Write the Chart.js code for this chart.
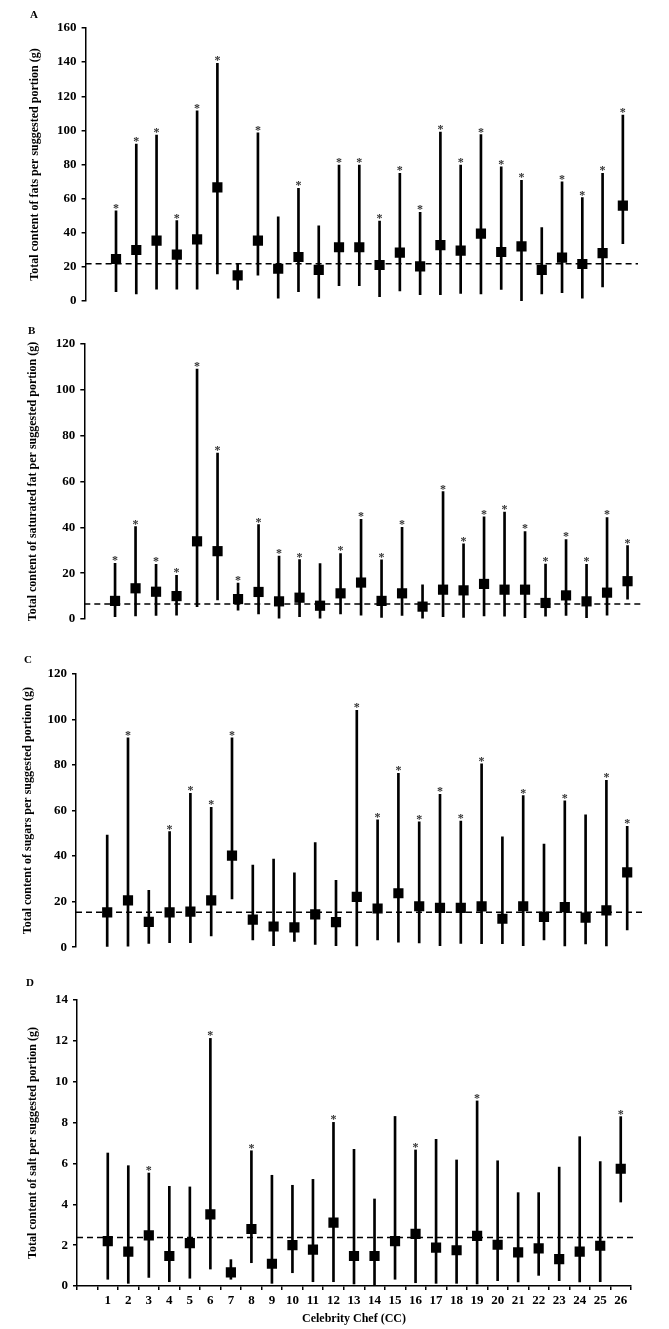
<!DOCTYPE html>
<html>
<head>
<meta charset="utf-8">
<script src="https://cdn.jsdelivr.net/npm/chart.js@4.4.1/dist/chart.umd.min.js"></script>
<style>
  body { margin: 0; background: #fff; }
  .panel { position: absolute; left: 0; width: 669px; }
</style>
</head>
<body>
<div class="panel" style="top:0;height:320px"><canvas id="chartA"></canvas></div>
<div class="panel" style="top:320px;height:320px"><canvas id="chartB"></canvas></div>
<div class="panel" style="top:640px;height:320px"><canvas id="chartC"></canvas></div>
<div class="panel" style="top:960px;height:369px"><canvas id="chartD"></canvas></div>
<script>
// Celebrity chefs 1..26 (first slot is an empty spacer on the axis)
const chefs = ['', '1', '2', '3', '4', '5', '6', '7', '8', '9', '10', '11', '12', '13',
  '14', '15', '16', '17', '18', '19', '20', '21', '22', '23', '24', '25', '26'];

// A - total fats (g)
const fatMean = [24.6, 29.9, 35.4, 27.2, 36.1, 66.6, 15.0, 35.4, 18.9, 25.8, 18.2, 31.5, 31.5, 21.1, 28.3, 20.3, 32.8, 29.5, 39.5, 28.7, 32.0, 18.2, 25.4, 21.7, 28.1, 55.9];
const fatLow = [5.5, 4.1, 7.0, 7.0, 7.0, 15.8, 6.8, 15.2, 1.6, 5.5, 1.6, 9.0, 9.0, 2.5, 5.9, 3.7, 3.7, 4.5, 4.1, 6.8, 0.2, 4.1, 4.9, 1.6, 8.2, 33.6];
const fatHigh = [52.9, 92.0, 97.3, 47.1, 111.5, 139.3, 21.7, 98.6, 49.4, 66.0, 44.1, 79.7, 79.7, 46.9, 74.8, 52.0, 99.0, 79.7, 97.5, 78.7, 70.7, 43.0, 69.9, 60.6, 74.8, 109.0];
const fatStar = [1, 1, 1, 1, 1, 1, 0, 1, 0, 1, 0, 1, 1, 1, 1, 1, 1, 1, 1, 1, 1, 0, 1, 1, 1, 1];

// B - saturated fat (g)
const satMean = [7.9, 13.4, 11.9, 10.0, 33.9, 29.6, 8.7, 11.8, 7.7, 9.3, 5.8, 11.2, 15.9, 7.9, 11.2, 5.4, 12.8, 12.5, 15.3, 12.8, 12.8, 7.0, 10.3, 7.7, 11.5, 16.5];
const satLow = [1.0, 1.3, 1.6, 1.7, 5.4, 8.3, 3.9, 2.2, 0.4, 1.0, 0.4, 2.2, 1.7, 0.7, 1.6, 0.4, 1.0, 0.7, 1.3, 1.2, 0.6, 1.2, 1.6, 0.6, 1.7, 8.6];
const satHigh = [24.3, 40.3, 23.9, 19.1, 109.1, 72.4, 15.7, 41.2, 27.5, 25.9, 24.2, 28.6, 43.5, 25.8, 40.0, 14.9, 55.6, 32.8, 44.6, 46.7, 38.2, 24.0, 34.7, 23.9, 44.3, 32.0];
const satStar = [1, 1, 1, 1, 1, 1, 1, 1, 1, 1, 0, 1, 1, 1, 1, 0, 1, 1, 1, 1, 1, 1, 1, 1, 1, 1];

// C - sugars (g)
const sugMean = [15.3, 20.6, 11.1, 15.3, 15.6, 20.6, 40.2, 12.1, 9.1, 8.7, 14.4, 11.0, 22.1, 17.0, 23.7, 18.0, 17.3, 17.3, 17.9, 12.5, 18.0, 13.3, 17.6, 13.0, 16.2, 32.9];
const sugLow = [0.3, 0.4, 1.7, 2.0, 2.0, 4.9, 21.2, 3.2, 0.7, 2.5, 1.2, 0.7, 0.6, 3.2, 2.2, 1.9, 0.7, 1.7, 1.6, 1.6, 0.7, 3.2, 0.6, 1.4, 0.6, 7.6];
const sugHigh = [49.3, 92.0, 25.0, 50.8, 67.6, 61.4, 92.0, 36.1, 38.7, 32.7, 45.9, 29.4, 104.0, 56.0, 76.4, 55.1, 67.2, 55.4, 80.5, 48.5, 66.6, 45.3, 64.3, 58.1, 73.3, 53.1];
const sugStar = [0, 1, 0, 1, 1, 1, 1, 0, 0, 0, 0, 0, 1, 1, 1, 1, 1, 1, 1, 0, 1, 0, 1, 0, 1, 1];

// D - salt (g)
const saltMean = [2.2, 1.68, 2.48, 1.47, 2.1, 3.51, 0.67, 2.79, 1.09, 2.0, 1.78, 3.1, 1.47, 1.47, 2.2, 2.55, 1.88, 1.75, 2.45, 2.02, 1.65, 1.84, 1.32, 1.68, 1.97, 5.74];
const saltLow = [0.33, 0.13, 0.42, 0.21, 0.38, 0.83, 0.33, 1.14, 0.13, 0.65, 0.21, 0.21, 0.1, 0.05, 0.33, 0.16, 0.13, 0.13, 0.1, 0.26, 0.2, 0.52, 0.26, 0.2, 0.21, 4.11];
const saltHigh = [6.51, 5.89, 5.53, 4.88, 4.85, 12.12, 1.29, 6.62, 5.42, 4.93, 5.22, 8.01, 6.69, 4.26, 8.3, 6.66, 7.18, 6.17, 9.06, 6.13, 4.57, 4.57, 5.82, 7.31, 6.09, 8.29];
const saltStar = [0, 0, 1, 0, 0, 1, 0, 1, 0, 0, 0, 1, 0, 0, 0, 1, 0, 0, 1, 0, 0, 0, 0, 0, 0, 1];

// dashed reference level for each panel
const refLevels = [21.9, 6.6, 15.4, 2.38];

const FONT = "'Liberation Serif', 'Times New Roman', serif";

function makePanel(id, p) {
    // plugin: dashed reference line, asterisks, panel letter
    const marks = {
        id: 'marks',
        beforeDatasetsDraw(chart) {
            const { ctx, chartArea, scales: { y } } = chart;
            const yy = y.getPixelForValue(p.ref);
            ctx.save();
            ctx.setLineDash([6, 4]);
            ctx.lineWidth = 1.5;
            ctx.strokeStyle = '#000';
            ctx.beginPath();
            ctx.moveTo(chartArea.left, yy);
            ctx.lineTo(chartArea.right + 5, yy);
            ctx.stroke();
            ctx.restore();
        },
        afterDatasetsDraw(chart) {
            const { ctx, scales: { x, y } } = chart;
            ctx.save();
            ctx.fillStyle = '#333';
            ctx.font = 'bold 12px ' + FONT;
            ctx.textAlign = 'center';
            ctx.textBaseline = 'alphabetic';
            p.star.forEach((s, i) => {
                if (!s) return;
                const px = x.getPixelForValue(i + 1);
                const py = y.getPixelForValue(p.high[i]);
                ctx.fillText('*', px, py + 1);
            });
            ctx.fillStyle = '#000';
            ctx.font = 'bold 11px ' + FONT;
            ctx.textAlign = 'left';
            ctx.textBaseline = 'middle';
            ctx.fillText(p.letter, p.lx, p.ly);
            ctx.restore();
        }
    };

    const xAxis = p.showX ? {
        type: 'category',
        offset: true,
        border: { display: true, color: '#000', width: 1.5 },
        grid: { display: true, offset: true, drawOnChartArea: false, drawTicks: true, tickLength: 4, color: '#000', lineWidth: 1.5 },
        ticks: { color: '#000', font: { family: FONT, size: 13, weight: 'bold' }, padding: 3, maxRotation: 0, autoSkip: false },
        title: { display: true, text: 'Celebrity Chef (CC)', color: '#000', font: { family: FONT, size: 12, weight: 'bold' }, padding: { top: 0, bottom: 3 } },
        afterFit: (scale) => { scale.height = p.xHeight; }
    } : { type: 'category', offset: true, display: false };

    return new Chart(document.getElementById(id), {
        type: 'bar',
        data: {
            labels: chefs,
            datasets: [{
                type: 'line',
                data: [null].concat(p.mean),
                showLine: false,
                pointStyle: 'rect',
                pointRadius: 7.2,
                pointHoverRadius: 7.2,
                backgroundColor: '#000',
                borderColor: '#000',
                borderWidth: 0,
                order: 0
            }, {
                type: 'bar',
                data: [null].concat(p.low.map((lo, i) => [lo, p.high[i]])),
                backgroundColor: '#000',
                barThickness: 2,
                order: 1
            }]
        },
        options: {
            responsive: true,
            maintainAspectRatio: false,
            animation: false,
            layout: { padding: { left: 0, top: p.padTop, right: p.padRight, bottom: p.padBottom } },
            plugins: { legend: { display: false }, tooltip: { enabled: false } },
            scales: {
                x: xAxis,
                y: {
                    min: 0,
                    max: p.max,
                    ticks: { stepSize: p.step, color: '#000', font: { family: FONT, size: 13, weight: 'bold' }, padding: 5 },
                    border: { display: true, color: '#000', width: 1.5 },
                    grid: { display: true, drawOnChartArea: false, drawTicks: true, tickLength: 4, color: '#000', lineWidth: 1.5 },
                    title: { display: true, text: p.title, color: '#000', font: { family: FONT, size: 12, weight: 'bold' }, padding: { top: p.titlePad, bottom: 0 } },
                    afterFit: (scale) => { scale.width = p.yWidth; }
                }
            }
        },
        plugins: [marks]
    });
}

makePanel('chartA', {
    mean: fatMean, low: fatLow, high: fatHigh, star: fatStar, ref: refLevels[0],
    max: 160, step: 20, title: 'Total content of fats per suggested portion (g)',
    letter: 'A', lx: 30, ly: 15, padTop: 28, padBottom: 19, padRight: 36, yWidth: 85.6, titlePad: 27.8
});
makePanel('chartB', {
    mean: satMean, low: satLow, high: satHigh, star: satStar, ref: refLevels[1],
    max: 120, step: 20, title: 'Total content of saturated fat per suggested portion (g)',
    letter: 'B', lx: 28, ly: 11, padTop: 24, padBottom: 21, padRight: 31.2, yWidth: 84.3, titlePad: 25.8
});
makePanel('chartC', {
    mean: sugMean, low: sugLow, high: sugHigh, star: sugStar, ref: refLevels[2],
    max: 120, step: 20, title: 'Total content of sugars per suggested portion (g)',
    letter: 'C', lx: 24, ly: 20, padTop: 34, padBottom: 8, padRight: 31.4, yWidth: 76, titlePad: 20.8
});
makePanel('chartD', {
    mean: saltMean, low: saltLow, high: saltHigh, star: saltStar, ref: refLevels[3],
    max: 14, step: 2, title: 'Total content of salt per suggested portion (g)',
    letter: 'D', lx: 26, ly: 23, padTop: 40, padBottom: 0, padRight: 38, yWidth: 77, titlePad: 25.8,
    showX: true, xHeight: 43
});
</script>
</body>
</html>
